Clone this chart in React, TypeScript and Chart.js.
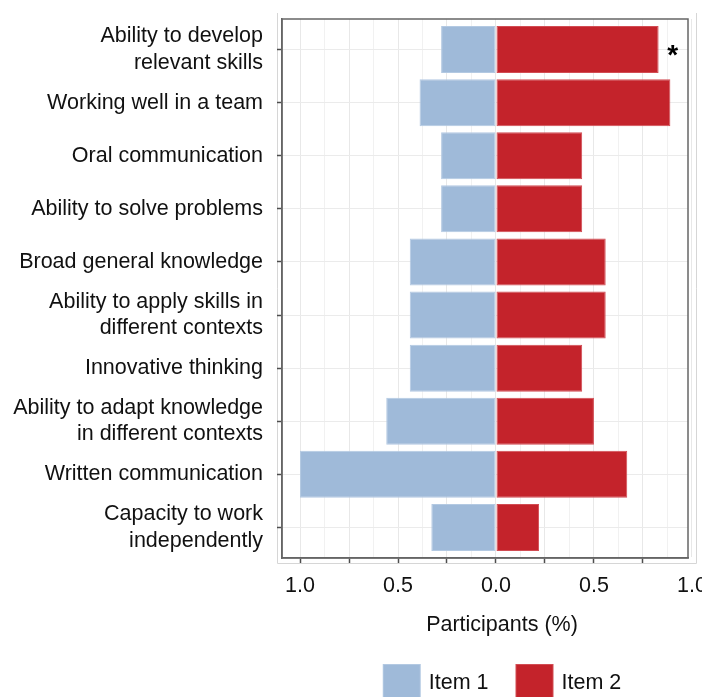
import { useEffect, useRef } from "react";
import { Chart, registerables } from "chart.js";

Chart.register(...registerables);

// Skills rated by participants (top to bottom)
const skills: (string | string[])[] = [
  ["Ability to develop", "relevant skills"],
  "Working well in a team",
  "Oral communication",
  "Ability to solve problems",
  "Broad general knowledge",
  ["Ability to apply skills in", "different contexts"],
  "Innovative thinking",
  ["Ability to adapt knowledge", "in different contexts"],
  "Written communication",
  ["Capacity to work", "independently"],
];

// Share of participants for each item (item 1 is drawn to the left of zero)
const item1 = [0.28, 0.39, 0.28, 0.28, 0.44, 0.44, 0.44, 0.56, 1.0, 0.33];
const item2 = [0.83, 0.89, 0.44, 0.44, 0.56, 0.56, 0.44, 0.5, 0.67, 0.22];

// Rows marked with a significance asterisk
const starredRows = [0];

// Labelled x positions; grid runs every eighth between them
const labelledTicks = [-1.0, -0.5, 0.0, 0.5, 1.0];
const gridStep = 0.125;

const seriesNames = ["Item 1", "Item 2"];
const seriesColors = ["#9FBAD9", "#C4232B"];
const seriesEdges = ["#B3C9E2", "#D24C53"];

const FONT = "'Liberation Sans', Arial, Helvetica, sans-serif";
const FONT_SIZE = 21.5;
const TEXT = "#111111";

const isMultiple = (v: number, step: number) =>
  Math.abs(v / step - Math.round(v / step)) < 1e-9;

const decorations = {
  id: "decorations",
  beforeDraw(chart: any) {
    const { ctx, chartArea: a } = chart;
    ctx.save();
    ctx.strokeStyle = "#D6D6D6";
    ctx.lineWidth = 1;
    ctx.beginPath();
    ctx.moveTo(a.left - 4.5, a.top - 6);
    ctx.lineTo(a.left - 4.5, a.bottom + 5.5);
    ctx.lineTo(a.right + 8.5, a.bottom + 5.5);
    ctx.lineTo(a.right + 8.5, a.top - 6);
    ctx.stroke();
    ctx.restore();
  },
  afterDatasetsDraw(chart: any) {
    const { ctx, chartArea: a } = chart;
    ctx.save();
    ctx.strokeStyle = "#666666";
    ctx.lineWidth = 1.5;
    ctx.strokeRect(a.left, a.top, a.right - a.left, a.bottom - a.top);
    ctx.restore();
  },
  afterDraw(chart: any) {
    const { ctx, chartArea: a } = chart;
    ctx.save();

    // significance markers after the item 2 bars
    const meta = chart.getDatasetMeta(1);
    ctx.fillStyle = "#000";
    ctx.font = `bold 28px ${FONT}`;
    ctx.textAlign = "center";
    ctx.textBaseline = "alphabetic";
    starredRows.forEach((i) => {
      const el = meta.data[i];
      if (el) ctx.fillText("*", el.x + 14, el.y + 14);
    });

    // axis title
    const cx = (a.left + a.right) / 2 + 17;
    ctx.fillStyle = TEXT;
    ctx.font = `${FONT_SIZE}px ${FONT}`;
    ctx.textBaseline = "middle";
    ctx.fillText("Participants (%)", cx, a.bottom + 67);

    // legend
    const box = 38;
    const gapText = 8;
    const gapItem = 27;
    const widths = seriesNames.map((n) => ctx.measureText(n).width);
    const total =
      widths.reduce((s, w) => s + w + box + gapText, 0) + gapItem * (seriesNames.length - 1);
    let x = cx - total / 2;
    const top = a.bottom + 106;
    ctx.textAlign = "left";
    seriesNames.forEach((n, i) => {
      ctx.fillStyle = seriesEdges[i];
      ctx.fillRect(x, top, box, box);
      ctx.fillStyle = seriesColors[i];
      ctx.fillRect(x + 1, top + 1, box - 2, box - 2);
      ctx.fillStyle = TEXT;
      ctx.fillText(n, x + box + gapText, top + 19);
      x += box + gapText + widths[i] + gapItem;
    });
    ctx.restore();
  },
};

export default function App() {
  const ref = useRef<HTMLCanvasElement | null>(null);

  useEffect(() => {
    if (!ref.current) return;

    const gridValues: number[] = [];
    for (let v = -1; v <= 1 + 1e-9; v += gridStep) gridValues.push(Math.round(v * 1000) / 1000);

    const chart = new Chart(ref.current, {
      type: "bar",
      data: {
        datasets: [
          {
            label: seriesNames[0],
            data: item1.map((v, i) => ({ x: -v, y: i })),
            backgroundColor: seriesColors[0],
            borderColor: seriesEdges[0],
            borderWidth: 1,
            borderSkipped: false,
          },
          {
            label: seriesNames[1],
            data: item2.map((v, i) => ({ x: v, y: i })),
            backgroundColor: seriesColors[1],
            borderColor: seriesEdges[1],
            borderWidth: 1,
            borderSkipped: false,
          },
        ],
      },
      options: {
        indexAxis: "y",
        animation: false,
        responsive: true,
        maintainAspectRatio: false,
        layout: { padding: { top: 19, right: 14, left: 0, bottom: 0 } },
        datasets: { bar: { categoryPercentage: 1, barPercentage: 0.885 } },
        plugins: {
          legend: { display: false },
          tooltip: { enabled: false },
        },
        scales: {
          x: {
            type: "linear",
            stacked: true,
            offset: false,
            min: -1.092,
            max: 0.98,
            afterBuildTicks: (s: any) => {
              s.ticks = gridValues.map((value) => ({ value }));
            },
            afterFit: (s: any) => {
              s.height = 139;
              s.paddingLeft = 0;
              s.paddingRight = 0;
            },
            grid: {
              offset: false,
              color: (c: any) =>
                c.tick && isMultiple(c.tick.value, 0.25) ? "#E8E8E8" : "#F1F1F1",
              lineWidth: 1,
              tickLength: 5,
              tickColor: (c: any) =>
                c.tick && isMultiple(c.tick.value, 0.25) && c.tick.value < 0.99
                  ? "#4D4D4D"
                  : "rgba(0,0,0,0)",
              tickWidth: 1.5,
            },
            border: { display: true, color: "#666666", width: 1.5 },
            ticks: {
              autoSkip: false,
              maxRotation: 0,
              padding: 10,
              color: TEXT,
              font: { family: FONT, size: FONT_SIZE },
              callback: (v: any) => {
                const n = Number(v);
                return labelledTicks.some((t) => Math.abs(t - n) < 1e-9)
                  ? Math.abs(n).toFixed(1)
                  : "";
              },
            },
          },
          y: {
            type: "linear",
            stacked: true,
            reverse: true,
            offset: false,
            min: -0.575,
            max: skills.length - 1 + 0.575,
            afterBuildTicks: (s: any) => {
              s.ticks = skills.map((_, i) => ({ value: i }));
            },
            afterFit: (s: any) => {
              s.width = 282;
              s.paddingTop = 0;
              s.paddingBottom = 0;
            },
            grid: {
              offset: false,
              color: "#EBEBEB",
              lineWidth: 1,
              tickLength: 5,
              tickColor: "#4D4D4D",
              tickWidth: 1.5,
            },
            border: { display: true, color: "#666666", width: 1.5 },
            ticks: {
              autoSkip: false,
              padding: 14,
              color: TEXT,
              font: { family: FONT, size: FONT_SIZE, lineHeight: 1.22 },
              callback: (v: any) => skills[Math.round(Number(v))] as any,
            },
          },
        },
      } as any,
      plugins: [decorations],
    });

    return () => chart.destroy();
  }, []);

  return (
    <div style={{ position: "fixed", left: 0, top: 0, width: 702, height: 697, background: "#fff" }}>
      <canvas ref={ref} />
    </div>
  );
}
